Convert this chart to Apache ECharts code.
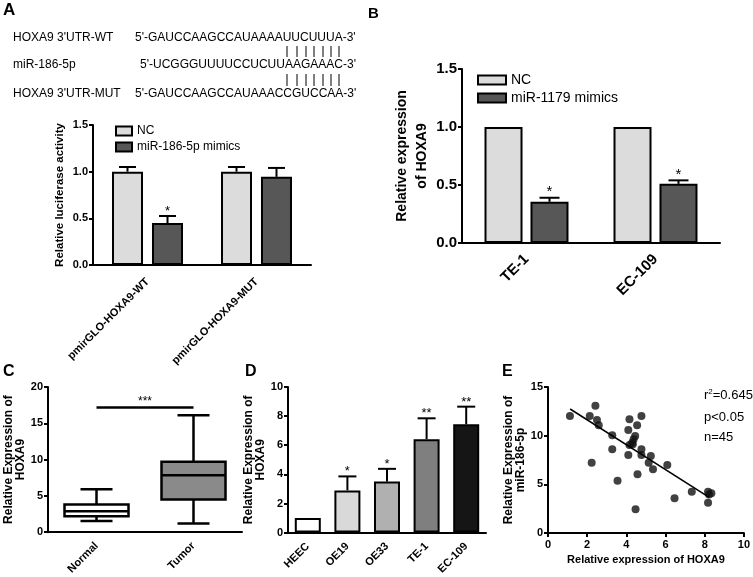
<!DOCTYPE html>
<html>
<head>
<meta charset="utf-8">
<script src="https://cdn.jsdelivr.net/npm/echarts@6/dist/echarts.min.js"></script>
<style>
html, body { margin: 0; padding: 0; background: #fff; }
#main { width: 753px; height: 577px; }
</style>
</head>
<body>
<div id="main"></div>
<script>
// A: luciferase reporter
const aCats = ['pmirGLO-HOXA9-WT', 'pmirGLO-HOXA9-MUT'];
const aNC = [1.0, 1.0];
const aNCErr = [0.05, 0.05];
const aMimic = [0.45, 0.945];
const aMimicErr = [0.075, 0.095];
const aStars = ['*', ''];

// B: HOXA9 after mimics
const bCats = ['TE-1', 'EC-109'];
const bNC = [1.0, 1.0];
const bMimic = [0.355, 0.51];
const bMimicErr = [0.035, 0.03];
const bStars = ['*', '*'];

// C: boxplot normal vs tumor  [min, Q1, median, Q3, max]
const cCats = ['Normal', 'Tumor'];
const cBox = [[1.55, 2.2, 2.9, 3.8, 5.9], [1.2, 4.5, 7.85, 9.7, 16.1]];
const cFill = ['#ffffff', '#8a8a8a'];
const cSigY = 17.2;

// D: cell lines
const dCats = ['HEEC', 'OE19', 'OE33', 'TE-1', 'EC-109'];
const dVals = [1.0, 2.9, 3.51, 6.42, 7.44];
const dErr = [0, 0.96, 0.87, 1.43, 1.21];
const dStars = ['', '*', '*', '**', '**'];
const dColors = ['#ffffff', '#d9d9d9', '#b0b0b0', '#7f7f7f', '#151515'];

// E: correlation
const ePoints = [
  [1.12, 12.02], [2.13, 12.02], [2.42, 13.08], [2.5, 11.6], [2.59, 11.07],
  [2.23, 7.23], [3.28, 10.04], [3.28, 8.6], [3.55, 5.38], [4.16, 11.69],
  [4.77, 12.02], [4.1, 10.59], [4.55, 11.07], [4.45, 9.97], [4.37, 9.63],
  [4.3, 9.28], [4.16, 9.04], [4.33, 9.11], [4.1, 8.02], [4.77, 8.6],
  [4.77, 8.02], [5.25, 7.91], [5.14, 7.23], [5.36, 6.55], [6.09, 6.99],
  [4.57, 6.03], [4.47, 2.43], [6.46, 3.57], [7.34, 4.25], [8.17, 4.25],
  [8.34, 4.08], [8.22, 3.95], [8.17, 3.12]
];
const eFit = [[1.13, 12.74], [8.23, 3.66]];

const FONT = "'Liberation Sans', Arial, sans-serif";
const chart = echarts.init(document.getElementById('main'));

function yAx(gi, min, max, step, digits, size, name, gap, nameSize, lh) {
  return {
    type: 'value', gridIndex: gi, min: min, max: max, interval: step,
    splitLine: { show: false },
    axisLine: { show: true, lineStyle: { color: '#000', width: 2 } },
    axisTick: { show: true, length: 4, lineStyle: { color: '#000', width: 2 } },
    axisLabel: { margin: 5, color: '#000', fontFamily: FONT, fontWeight: 'bold', fontSize: size,
      formatter: v => v.toFixed(digits) },
    name: name, nameLocation: 'middle', nameGap: gap,
    nameTextStyle: { color: '#000', fontFamily: FONT, fontWeight: 'bold', fontSize: nameSize, lineHeight: lh }
  };
}
function catAx(gi, cats, size, margin) {
  return {
    type: 'category', gridIndex: gi, data: cats,
    axisLine: { lineStyle: { color: '#000', width: 2 } },
    axisTick: { alignWithLabel: true, length: 5, lineStyle: { color: '#000', width: 2 } },
    axisLabel: { rotate: 45, margin: margin, color: '#000', fontFamily: FONT, fontWeight: 'bold', fontSize: size }
  };
}
function errSeries(gi, vals, errs, stars, offset, capW, starSize) {
  return {
    type: 'custom', xAxisIndex: gi, yAxisIndex: gi, z: 5,
    data: vals.map((v, i) => [i, v, v + errs[i]]),
    renderItem: function (params, api) {
      const i = api.value(0);
      const b = api.coord([i, api.value(1)]);
      const t = api.coord([i, api.value(2)]);
      const x = b[0] + offset;
      const kids = [];
      if (api.value(2) > api.value(1)) {
        kids.push({ type: 'line', shape: { x1: x, y1: b[1], x2: x, y2: t[1] }, style: { stroke: '#000', lineWidth: 2 } });
        kids.push({ type: 'line', shape: { x1: x - capW / 2, y1: t[1], x2: x + capW / 2, y2: t[1] }, style: { stroke: '#000', lineWidth: 2 } });
      }
      const s = stars[params.dataIndex];
      if (s) {
        kids.push({ type: 'text', style: { text: s, x: x, y: t[1] + 2, align: 'center', verticalAlign: 'bottom',
          fontSize: starSize, fontFamily: FONT, fill: '#000' } });
      }
      return { type: 'group', children: kids };
    }
  };
}
// box and whiskers with half-width caps, Prism style
function boxSeries(gi, boxes, fills, boxW) {
  return {
    type: 'custom', xAxisIndex: gi, yAxisIndex: gi,
    data: boxes.map((b, i) => [i].concat(b)),
    renderItem: function (params, api) {
      const i = api.value(0);
      const p = [1, 2, 3, 4, 5].map(k => api.coord([i, api.value(k)]));
      const x = p[0][0];
      const ln = (x1, y1, x2, y2) => ({ type: 'line', shape: { x1: x1, y1: y1, x2: x2, y2: y2 },
        style: { stroke: '#000', lineWidth: 2.5 } });
      return { type: 'group', children: [
        ln(x, p[0][1], x, p[1][1]),
        ln(x, p[3][1], x, p[4][1]),
        ln(x - boxW / 4, p[0][1], x + boxW / 4, p[0][1]),
        ln(x - boxW / 4, p[4][1], x + boxW / 4, p[4][1]),
        { type: 'rect', shape: { x: x - boxW / 2, y: p[3][1], width: boxW, height: p[1][1] - p[3][1] },
          style: { fill: fills[params.dataIndex], stroke: '#000', lineWidth: 2.5 } },
        ln(x - boxW / 2, p[2][1], x + boxW / 2, p[2][1])
      ] };
    },
    markLine: { silent: true, symbol: 'none', lineStyle: { color: '#000', width: 2.5, type: 'solid' },
      label: { show: true, position: 'middle', formatter: '***', color: '#000', fontFamily: FONT, fontSize: 12, distance: 0 },
      data: [[{ coord: [0, cSigY] }, { coord: [1, cSigY] }]] }
  };
}

const barStyle = c => ({ color: c, borderColor: '#000', borderWidth: 2 });
const txt = (x, y, s, size, weight) => ({ type: 'text', x: x, y: y,
  style: { text: s, fontSize: size, fontFamily: FONT, fontWeight: weight || 'normal', fill: '#000', verticalAlign: 'middle' } });

const pairX = [287, 297, 306, 314, 323, 331, 339];
const pairLines = [];
pairX.forEach(x => {
  pairLines.push({ type: 'line', shape: { x1: x, y1: 46, x2: x, y2: 57 }, style: { stroke: '#000', lineWidth: 1 } });
  pairLines.push({ type: 'line', shape: { x1: x, y1: 74, x2: x, y2: 86 }, style: { stroke: '#000', lineWidth: 1 } });
});

const option = {
  animation: false,
  backgroundColor: '#fff',
  grid: [
    { left: 93, top: 125, width: 218, height: 140 },
    { left: 462, top: 69, width: 258, height: 174 },
    { left: 48, top: 387, width: 194, height: 146 },
    { left: 288, top: 387, width: 198, height: 146 },
    { left: 548, top: 387, width: 197, height: 146 }
  ],
  xAxis: [
    catAx(0, aCats, 11, 15),
    catAx(1, bCats, 15, 14),
    catAx(2, cCats, 11, 12),
    catAx(3, dCats, 11, 12),
    { type: 'value', gridIndex: 4, min: 0, max: 10, interval: 2, splitLine: { show: false },
      axisLine: { lineStyle: { color: '#000', width: 2 } },
      axisTick: { length: 4, lineStyle: { color: '#000', width: 2 } },
      axisLabel: { margin: 6, color: '#000', fontFamily: FONT, fontWeight: 'bold', fontSize: 11 },
      name: 'Relative expression of HOXA9', nameLocation: 'middle', nameGap: 21,
      nameTextStyle: { color: '#000', fontFamily: FONT, fontWeight: 'bold', fontSize: 11 } }
  ],
  yAxis: [
    yAx(0, 0, 1.5, 0.5, 1, 11, 'Relative luciferase activity', 26, 11.5, 14),
    yAx(1, 0, 1.5, 0.5, 1, 15, 'Relative expression\nof HOXA9', 28, 14, 20),
    yAx(2, 0, 20, 5, 0, 11, 'Relative Expression of\nHOXA9', 20, 12, 12),
    yAx(3, 0, 10, 2, 0, 11, 'Relative Expression of\nHOXA9', 21, 12, 12),
    yAx(4, 0, 15, 5, 0, 11, 'Relative Expression of\nmiR-186-5p', 19, 12, 12)
  ],
  legend: [
    { left: 110, top: 119, orient: 'vertical', itemWidth: 16, itemHeight: 9, itemGap: 2, icon: 'rect',
      data: ['NC', 'miR-186-5p mimics'],
      textStyle: { fontFamily: FONT, fontSize: 12, color: '#000', lineHeight: 14 } },
    { left: 472, top: 67, orient: 'vertical', itemWidth: 28, itemHeight: 9, itemGap: 2, icon: 'rect',
      data: ['NC', 'miR-1179 mimics'],
      textStyle: { fontFamily: FONT, fontSize: 14, color: '#000', lineHeight: 16 } }
  ],
  series: [
    { name: 'NC', type: 'bar', xAxisIndex: 0, yAxisIndex: 0, data: aNC, barWidth: 31, barGap: '29%', itemStyle: barStyle('#dcdcdc') },
    { name: 'miR-186-5p mimics', type: 'bar', xAxisIndex: 0, yAxisIndex: 0, data: aMimic, barWidth: 31, barGap: '29%', itemStyle: barStyle('#575757') },
    errSeries(0, aNC, aNCErr, ['', ''], -20, 17, 13),
    errSeries(0, aMimic, aMimicErr, aStars, 20, 17, 13),

    { name: 'NC', type: 'bar', xAxisIndex: 1, yAxisIndex: 1, data: bNC, barWidth: 38, barGap: '21%', itemStyle: barStyle('#dcdcdc') },
    { name: 'miR-1179 mimics', type: 'bar', xAxisIndex: 1, yAxisIndex: 1, data: bMimic, barWidth: 38, barGap: '21%', itemStyle: barStyle('#575757') },
    errSeries(1, bMimic, bMimicErr, bStars, 23, 20, 15),

    boxSeries(2, cBox, cFill, 64),

    { type: 'bar', xAxisIndex: 3, yAxisIndex: 3, barWidth: 26,
      data: dVals.map((v, i) => ({ value: v, itemStyle: barStyle(dColors[i]) })) },
    errSeries(3, dVals, dErr, dStars, 0, 18, 13),

    { type: 'scatter', xAxisIndex: 4, yAxisIndex: 4, data: ePoints, symbolSize: 8, itemStyle: { color: '#111' } },
    { type: 'line', xAxisIndex: 4, yAxisIndex: 4, data: eFit, showSymbol: false, lineStyle: { color: '#000', width: 1.5 } }
  ],
  graphic: [
    { type: 'text', left: 3, top: 2, style: { text: 'A', fontSize: 17, fontWeight: 'bold', fontFamily: FONT, fill: '#000' } },
    { type: 'text', left: 368, top: 6, style: { text: 'B', fontSize: 15, fontWeight: 'bold', fontFamily: FONT, fill: '#000' } },
    { type: 'text', left: 3, top: 364, style: { text: 'C', fontSize: 16, fontWeight: 'bold', fontFamily: FONT, fill: '#000' } },
    { type: 'text', left: 245, top: 364, style: { text: 'D', fontSize: 16, fontWeight: 'bold', fontFamily: FONT, fill: '#000' } },
    { type: 'text', left: 502, top: 364, style: { text: 'E', fontSize: 16, fontWeight: 'bold', fontFamily: FONT, fill: '#000' } },
    txt(13, 38, "HOXA9 3'UTR-WT", 12),
    txt(135, 38, "5'-GAUCCAAGCCAUAAAAUUCUUUA-3'", 12),
    txt(13, 65, 'miR-186-5p', 12),
    txt(140, 65, "5'-UCGGGUUUUCCUCUUAAGAAAC-3'", 12),
    txt(13, 94, "HOXA9 3'UTR-MUT", 12),
    txt(135, 94, "5'-GAUCCAAGCCAUAAACCGUCCAA-3'", 12),
    ...pairLines,
    { type: 'text', x: 704, y: 395, style: { text: 'r{s|2}=0.645', verticalAlign: 'middle', fontSize: 13, fontFamily: FONT, fill: '#000',
      rich: { s: { fontSize: 8, verticalAlign: 'top', padding: [0, 0, 6, 0] } } } },
    txt(704, 417, 'p<0.05', 13),
    txt(704, 437, 'n=45', 13)
  ]
};
chart.setOption(option);
</script>
</body>
</html>
